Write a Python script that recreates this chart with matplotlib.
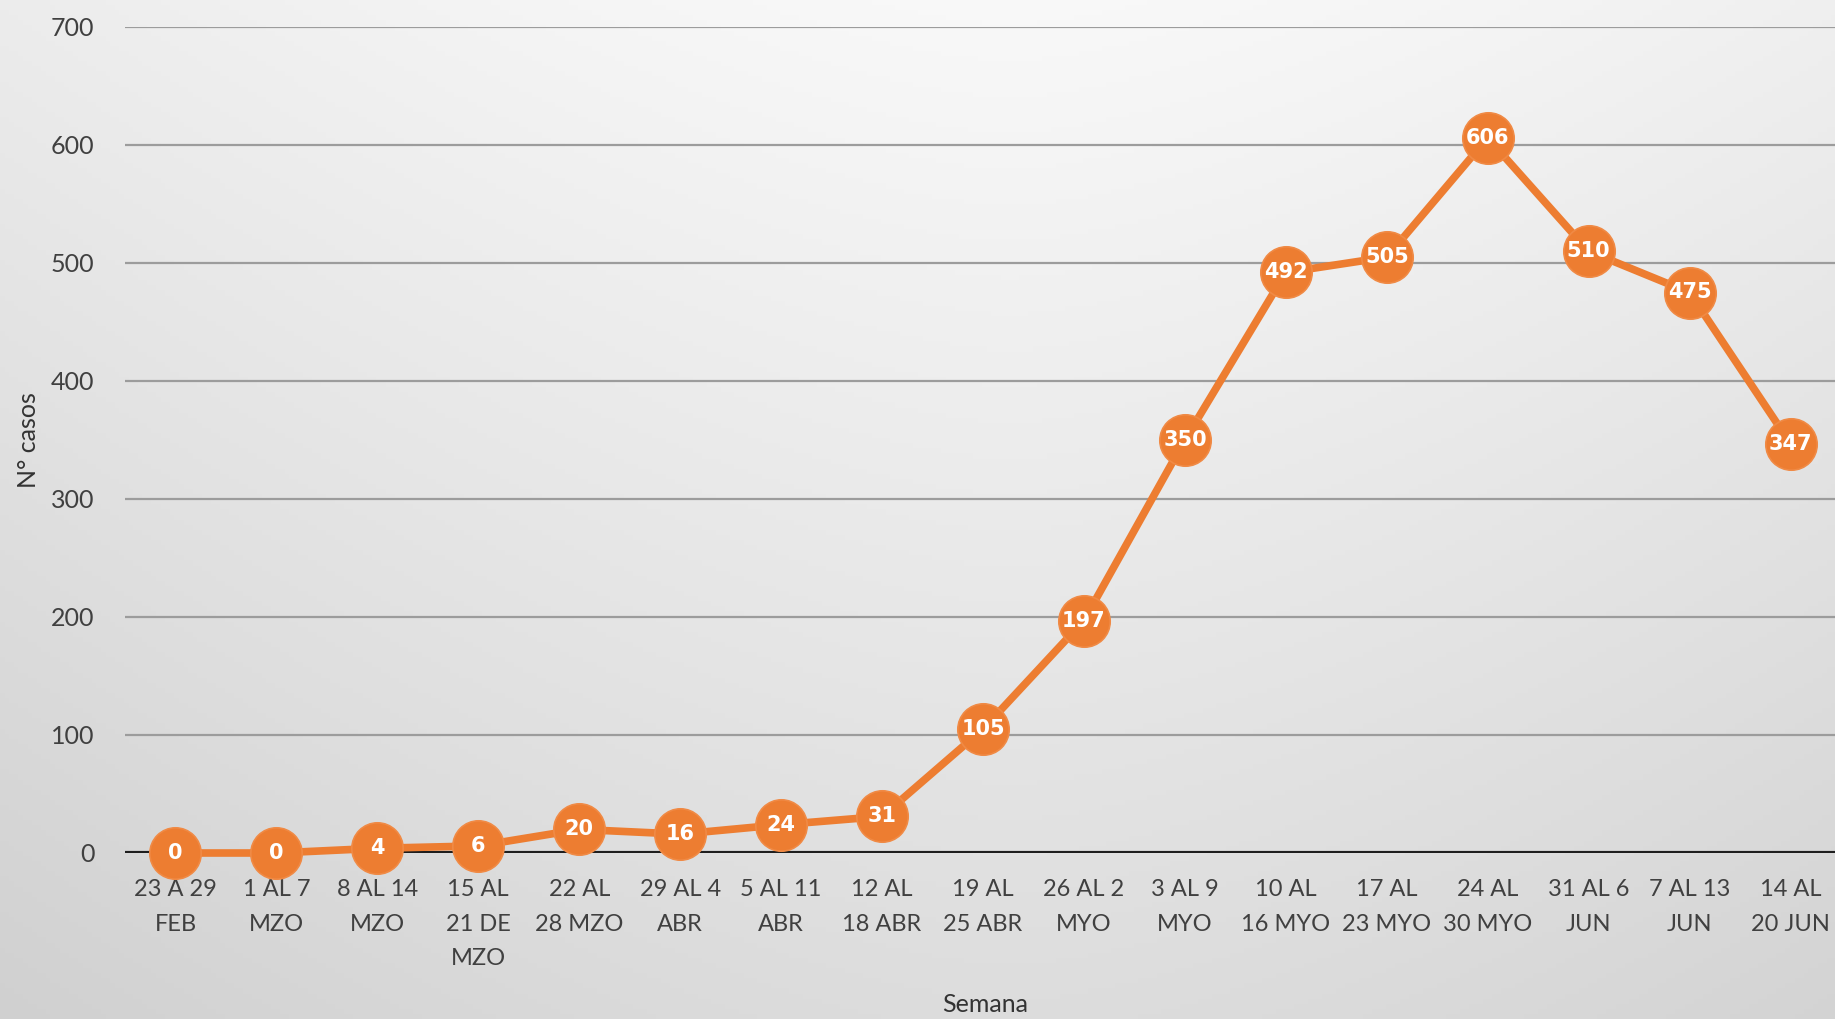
import numpy as np
import matplotlib
matplotlib.use("Agg")
import matplotlib.pyplot as plt

weeks = ["23 A 29\nFEB", "1 AL 7\nMZO", "8 AL 14\nMZO", "15 AL\n21 DE\nMZO", "22 AL\n28 MZO",
         "29 AL 4\nABR", "5 AL 11\nABR", "12 AL\n18 ABR", "19 AL\n25 ABR", "26 AL 2\nMYO",
         "3 AL 9\nMYO", "10 AL\n16 MYO", "17 AL\n23 MYO", "24 AL\n30 MYO", "31 AL 6\nJUN",
         "7 AL 13\nJUN", "14 AL\n20 JUN"]
cases = [0, 0, 4, 6, 20, 16, 24, 31, 105, 197, 350, 492, 505, 606, 510, 475, 347]
yticks = [0, 100, 200, 300, 400, 500, 600, 700]

W, H = 1835, 1019
fig = plt.figure(figsize=(W / 100, H / 100), dpi=100)

# background gradient
bg = fig.add_axes([0, 0, 1, 1], zorder=-10)
yy, xx = np.mgrid[0:1:200j, 0:1:400j]
val = 0.975 - 0.11 * yy - 0.06 * np.abs(xx - 0.55) ** 1.5 * 2
val = np.clip(val, 0, 1)
bg.imshow(np.dstack([val, val, val]), extent=[0, 1, 0, 1], aspect="auto", origin="upper")
bg.set_axis_off()

left = 125 / W
right = 1841 / W
bottom = 1 - 853 / H
top = 1 - 27 / H
ax = fig.add_axes([left, bottom, right - left, top - bottom])
ax.patch.set_alpha(0)

x = np.arange(len(cases))
orange = "#ED7D31"
ax.plot(x, cases, color=orange, lw=5.5, zorder=4, clip_on=False, solid_capstyle="round")
ax.plot(x, cases, "o", ms=37, color=orange, mec="#F08A45", mew=1.2, zorder=5, clip_on=False)
for xi, v in zip(x, cases):
    ax.text(xi, v, str(v), ha="center", va="center", color="white", fontsize=15,
            fontweight="bold", family="DejaVu Sans", zorder=6, clip_on=False)

ax.set_xlim(-0.5, len(cases) - 0.5)
ax.set_ylim(0, 700)
ax.set_yticks(yticks)
ax.set_yticklabels([str(t) for t in yticks], family="Lato", fontsize=18, color="#404040")
ax.set_xticks(x)
ax.set_xticklabels(weeks, family="Lato", fontsize=17, color="#404040", linespacing=1.78)
ax.tick_params(axis="both", length=0)
ax.tick_params(axis="y", pad=22)
ax.tick_params(axis="x", pad=19)
for t in yticks[1:]:
    ax.axhline(t, color="#9c9c9c", lw=1.6, zorder=1)
ax.axhline(0, color="#1e1e1e", lw=3, zorder=2)
for s in ax.spines.values():
    s.set_visible(False)

fig.text(29 / W, 1 - 440 / H, "N° casos", rotation=90, ha="center", va="center",
         family="Lato", fontsize=18, color="#333333")
fig.text(985 / W, 1 - 1004 / H, "Semana", ha="center", va="center",
         family="Lato", fontsize=18, color="#333333")

fig.savefig("out.png", dpi=100)
